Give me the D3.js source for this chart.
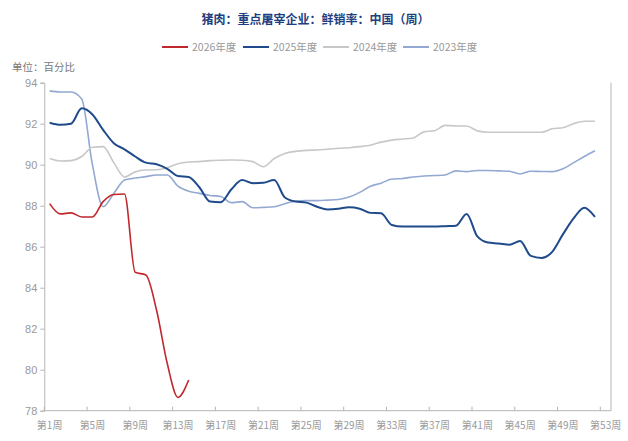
<!DOCTYPE html>
<html><head><meta charset="utf-8">
<script src="https://cdn.jsdelivr.net/npm/d3@7"></script>
<style>body{margin:0;background:#fff;}svg{display:block;font-family:"Noto Sans CJK SC","Noto Sans",sans-serif;}</style>
</head><body>
<script>
const weeks = d3.range(1, 54).map(w => "第" + w + "周");
const tickWeeks = [1,5,9,13,17,21,25,29,33,37,41,45,49,53].map(w => "第" + w + "周");
const yTicks = [78,80,82,84,86,88,90,92,94];
const seriesNames = ["2026年度","2025年度","2024年度","2023年度"];
const s2026 = [88.1,87.6,87.65,87.45,87.45,88.2,88.55,88.57,84.75,84.62,82.9,80.3,78.65,79.5];
const s2025 = [92.05,91.95,92.0,92.75,92.45,91.7,91.05,90.75,90.4,90.1,90.02,89.8,89.45,89.4,88.9,88.2,88.17,88.8,89.25,89.1,89.12,89.25,88.4,88.2,88.15,87.95,87.82,87.85,87.92,87.85,87.65,87.63,87.06,86.98,86.98,86.98,86.98,87.0,87.02,87.6,86.5,86.2,86.16,86.1,86.28,85.55,85.45,85.75,86.6,87.38,87.9,87.45];
const s2024 = [90.3,90.18,90.2,90.4,90.85,90.88,90.1,89.4,89.65,89.74,89.75,89.85,90.05,90.13,90.15,90.2,90.22,90.23,90.22,90.15,89.9,90.3,90.55,90.65,90.7,90.72,90.75,90.8,90.83,90.88,90.95,91.1,91.2,91.25,91.3,91.6,91.66,91.92,91.89,91.89,91.65,91.58,91.58,91.58,91.58,91.58,91.58,91.75,91.8,92.0,92.12,92.12];
const s2023 = [93.6,93.55,93.55,93.2,90.0,87.95,88.6,89.25,89.35,89.42,89.5,89.5,88.95,88.7,88.6,88.5,88.45,88.15,88.2,87.9,87.92,87.95,88.1,88.22,88.25,88.25,88.27,88.3,88.42,88.65,88.95,89.1,89.3,89.33,89.4,89.45,89.47,89.5,89.7,89.66,89.72,89.72,89.7,89.68,89.55,89.68,89.67,89.66,89.8,90.1,90.4,90.68];
const colors = ["#c0282d","#1f4a8c","#c8c8c8","#93a9d1"];
const widths = [1.6,2,1.6,1.6];

const W = 628, H = 441;
const svg = d3.select("body").append("svg").attr("width", W).attr("height", H);
const x = d3.scaleBand().domain(weeks).range([44.3, 611]).padding(0);
const y = d3.scaleLinear().domain([78, 94]).range([410.7, 82.7]);
const axisColor = "#b5b5b5", labelColor = "#999";

// title
svg.append("text").attr("x", 315.5).attr("y", 24).attr("text-anchor", "middle")
  .attr("font-size", 12).attr("font-weight", "bold").attr("fill", "#1f3f80")
  .text("猪肉：重点屠宰企业：鲜销率：中国（周）");

// legend
const legX = [162, 243, 323, 403];
seriesNames.forEach((n, i) => {
  const g = svg.append("g").attr("transform", `translate(${legX[i]},47)`);
  g.append("line").attr("x1", 0).attr("x2", 26).attr("y1", 0).attr("y2", 0)
    .attr("stroke", colors[i]).attr("stroke-width", 2);
  g.append("text").attr("x", 30).attr("y", 4).attr("font-size", 10.5).attr("fill", labelColor).text(n);
});

// unit
svg.append("text").attr("x", 12).attr("y", 71).attr("font-size", 10.5).attr("fill", "#777").text("单位：百分比");

// y axis
const yAxis = svg.append("g").attr("transform", "translate(44.3,0)")
  .call(d3.axisLeft(y).tickValues(yTicks).tickSize(4).tickPadding(3));
yAxis.select(".domain").attr("stroke", axisColor);
yAxis.selectAll(".tick line").attr("stroke", axisColor);
yAxis.selectAll(".tick text").attr("fill", labelColor).attr("font-size", 11).attr("font-family", "Liberation Sans, Arial, sans-serif");

// right frame
svg.append("line").attr("x1", 611).attr("x2", 611).attr("y1", y(94)).attr("y2", y(78))
  .attr("stroke", axisColor);

// x axis
const xg = svg.append("g").attr("transform", `translate(0,${y(78)})`);
xg.append("line").attr("x1", 44.3).attr("x2", 611).attr("y1", 0).attr("y2", 0).attr("stroke", axisColor);
tickWeeks.forEach(w => {
  const bx = x(w);
  xg.append("line").attr("x1", bx).attr("x2", bx).attr("y1", 0).attr("y2", -4).attr("stroke", axisColor);
  xg.append("text").attr("x", bx + x.bandwidth()/2).attr("y", 18).attr("text-anchor", "middle")
    .attr("font-size", 10).attr("fill", labelColor).text(w);
});

// lines
const data = [s2026, s2025, s2024, s2023];
const line = d3.line().x((d, i) => x(weeks[i]) + x.bandwidth()/2).y(d => y(d)).curve(d3.curveMonotoneX);
[3,2,1,0].forEach(i => {
  svg.append("path").datum(data[i]).attr("d", line).attr("fill", "none")
    .attr("stroke", colors[i]).attr("stroke-width", widths[i]).attr("stroke-linejoin", "round");
});
</script>
</body></html>
